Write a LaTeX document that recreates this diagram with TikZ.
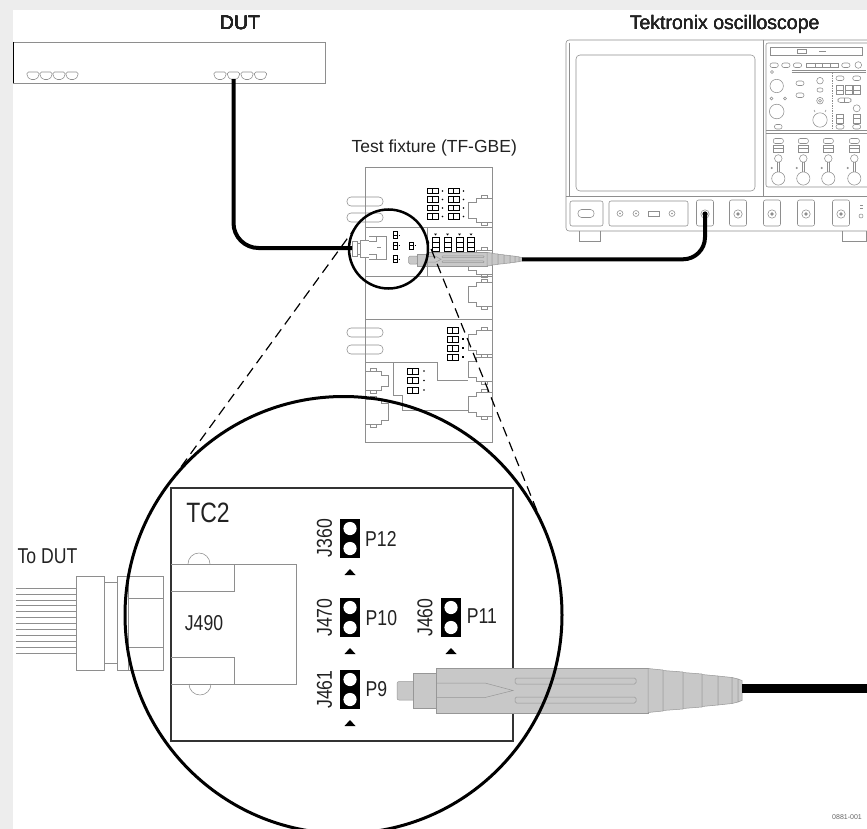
\documentclass[tikz,border=0pt]{standalone}
\usepackage{fontspec}
\setmainfont{Liberation Sans}
\newfontfamily\narrowsans[FakeStretch=0.82]{Liberation Sans}
\definecolor{bggrey}{HTML}{EDEDED}
\definecolor{linegrey}{HTML}{8E8E8E}
\definecolor{probegrey}{HTML}{C8C8C8}
\definecolor{probeedge}{HTML}{979797}
\definecolor{ink}{HTML}{222222}
\definecolor{boardedge}{HTML}{333333}

\tikzset{
  dev/.style={draw=linegrey, line width=0.55pt},
  darkpart/.style={draw=black, line width=0.6pt},
  cable/.style={draw=black, line width=4pt},
  probebody/.style={draw=probeedge, fill=probegrey, line width=0.5pt},
  probeline/.style={draw=probeedge, line width=0.5pt},
  toplbl/.style={inner sep=0pt, text=ink, font=\fontsize{19.5}{22}\selectfont},
  pinlbl/.style={inner sep=0pt, text=ink, font=\narrowsans\fontsize{21.5}{24}\selectfont},
  zoomline/.style={draw=black, line width=1.2pt, dash pattern=on 10pt off 6pt},
}

% RJ45 socket seen from the front
\newcommand\rjport[2]{%
  \draw[dev, rounded corners=1.5] (#1,#2) -- (#1+12,#2) -- (#1+12,#2+4) -- (#1+9,#2+7.5) -- (#1+3,#2+7.5) -- (#1,#2+4) -- cycle;}
% two-pin jumper header with its pin-1 marker
\newcommand\jumperblk[2]{%
  \fill[black] (#1-10,#2) rectangle (#1+10,#2+39);
  \fill[white] (#1,#2+9.5) circle (6.6);
  \fill[white] (#1,#2+29.5) circle (6.6);
  \fill[black] (#1-5.5,#2+56) -- (#1+5.5,#2+56) -- (#1,#2+50) -- cycle;}
% side-view connector on the fixture's right edge
\newcommand\fixjack[1]{%
  \draw[dev] (492,#1) -- (476,#1) -- (476,#1+4) -- (468,#1+4) -- (468,#1+20) -- (476,#1+20) -- (476,#1+24) -- (492,#1+24);
  \draw[dev] (481,#1) -- (481,#1-3) -- (487,#1-3) -- (487,#1);
  \draw[dev] (481,#1+24) -- (481,#1+27) -- (487,#1+27) -- (487,#1+24);}
% the same connector on the left edge
\newcommand\fixjackl[2]{%
  \draw[dev] (365,#1) -- (381,#1) -- (381,#1+4) -- (388,#1+4) -- (388,#1+#2-4) -- (381,#1+#2-4) -- (381,#1+#2) -- (365,#1+#2);
  \draw[dev] (370,#1) -- (370,#1-3) -- (376,#1-3) -- (376,#1);
  \draw[dev] (370,#1+#2) -- (370,#1+#2+3) -- (376,#1+#2+3) -- (376,#1+#2);}
% small horizontal header printed on the fixture
\newcommand\hjmp[2]{%
  \draw[darkpart] (#1,#2-2.8) rectangle (#1+11,#2+2.8);
  \draw[darkpart] (#1+5.5,#2-2.8) -- (#1+5.5,#2+2.8);}
% small vertical header printed on the fixture
\newcommand\vjmp[2]{%
  \draw[darkpart] (#1-3.5,#2) rectangle (#1+3.5,#2+14);
  \draw[darkpart] (#1-3.5,#2+4.7) -- (#1+3.5,#2+4.7);
  \draw[darkpart] (#1-3.5,#2+9.3) -- (#1+3.5,#2+9.3);
  \fill[black] (#1-1.5,#2-4) -- (#1+1.5,#2-4) -- (#1,#2-2) -- cycle;}
% tiny header inside the magnifier
\newcommand\tjmp[2]{%
  \draw[black, line width=0.5pt] (#1-2,#2-3.5) rectangle (#1+2,#2+3.5);
  \draw[black, line width=0.5pt] (#1-2,#2) -- (#1+2,#2);
  \draw[black, line width=0.5pt] (#1+3.5,#2) -- (#1+5,#2);}
% scope channel column
\newcommand\chcol[1]{%
  \draw[dev, rounded corners=2] (#1-5,138.5) rectangle (#1+5,143.5);
  \draw[dev] (#1-5,145) rectangle (#1+5,152);
  \draw[dev] (#1-5,148.5) -- (#1+5,148.5);
  \draw[dev] (#1,158.5) circle (3.8);
  \draw[dev] (#1-1,162.3) -- (#1-1,172);
  \draw[dev] (#1+1,162.3) -- (#1+1,172);
  \fill[linegrey] (#1-6.5,168) circle (1.1);
  \draw[dev] (#1,178.5) circle (6.6);}

\begin{document}
\begin{tikzpicture}[x=1pt,y=-1pt]
\fill[bggrey] (0,0) rectangle (867,829);
\useasboundingbox (0,0) rectangle (867,829);
\clip (0,0) rectangle (867,829);
\fill[white] (13,10) rectangle (867,829);

% ---------------- DUT ----------------
\draw[dev] (13,42) rectangle (325,83);
\draw[black, line width=0.8pt] (13,42) -- (13,83);
\foreach \px in {27,40,53,66,214,227.5,241,254.5} \rjport{\px}{72}
\node[toplbl, anchor=base] (dutlbl) at (240,29.3) {DUT};
\coordinate (dutport) at (233.5,79);

% ---------------- oscilloscope ----------------
\draw[dev, rounded corners=3] (566,40) rectangle (880,231);
\draw[dev, rounded corners=3] (569,43) -- (569,196);
\draw[dev] (566,196) -- (880,196);
\draw[dev] (763,40) -- (763,196);
\draw[dev, rounded corners=4] (576,55) rectangle (755,191);
\draw[dev] (579,231) -- (579,241) -- (600,241) -- (600,231);
\draw[dev] (842,231) -- (842,241) -- (866,241) -- (866,231);
% front strip
\draw[dev, rounded corners=2] (570,201) rectangle (603,226);
\draw[dev, rounded corners=3.5] (578,209.5) rectangle (594,217.5);
\draw[dev, rounded corners=2] (609,201) rectangle (688,226);
\foreach \cx in {620,636,672} {\draw[dev] (\cx,213.5) circle (3); \fill[linegrey] (\cx,213.5) circle (0.8);}
\draw[dev] (648,211) rectangle (659,216);
\foreach \cx in {705,738,772,806,841} {
  \draw[dev, rounded corners=2] (\cx-8.5,200) rectangle (\cx+8.5,226);
  \draw[dev] (\cx,214) circle (4.2);
  \fill[linegrey] (\cx,214) circle (1.8);
}
\draw[dev] (860,205) -- (863,205) (860,208) -- (863,208);
\draw[dev] (861,216) circle (2);
% control panel
\draw[dev, rounded corners=2] (766,43) rectangle (880,187);
\draw[dev] (770,47) rectangle (862,55);
\draw[dev] (797,49) rectangle (806,53);
\draw[dev] (819,51) -- (826,51);
\foreach \bx in {770,781.7,793.3,841.7} \draw[dev, rounded corners=2.2] (\bx,63) rectangle (\bx+8.3,67.5);
\draw[dev] (806.7,63) rectangle (838,67.5);
\foreach \bx in {815,822.5,830} \draw[dev] (\bx,63) -- (\bx,67.5);
\draw[dev] (858.3,65) circle (3.3);
\draw[dev] (791.7,70.5) -- (866,70.5);
\draw[dev] (791.7,72.5) -- (866,72.5);
\draw[dev] (772,72) circle (1.5);
\draw[dev] (776.7,86) circle (6.7);
\draw[dev] (771.5,98.5) circle (1.4);
\draw[dev] (785,98.5) circle (1.4);
\draw[dev] (776.7,111.5) circle (7.3);
\draw[dev, rounded corners=2] (774.5,124.5) rectangle (782,129);
\draw[dev, rounded corners=2.2] (796,81) rectangle (804,85.5);
\draw[dev, rounded corners=2.2] (796,93) rectangle (804,97.5);
\draw[dev] (820,80.7) circle (3.3);
\draw[dev, rounded corners=2] (817,88) rectangle (823,92);
\draw[dev] (820,100.7) circle (3.3);
\draw[dev] (820,100.7) circle (1.5);
\draw[dev] (820,120) circle (7.2);
\draw[dev] (814,110) -- (815,112) (826,110) -- (825,112);
\draw[dev, dash pattern=on 1.5pt off 1pt] (832.7,73) -- (832.7,130);
\foreach \bx in {840,856.7} {
  \draw[dev, rounded corners=2.2] (\bx-4,76) rectangle (\bx+4,80.5);
  \draw[dev] (\bx-3.5,85.5) rectangle (\bx+3.5,94.5);
  \draw[dev] (\bx-3.5,90) -- (\bx+3.5,90);
  \draw[dev] (\bx-3.5,114) rectangle (\bx+3.5,123);
  \draw[dev] (\bx-3.5,118.5) -- (\bx+3.5,118.5);
  \draw[dev, rounded corners=2.2] (\bx-4,124.5) rectangle (\bx+4,129);
}
\draw[dev] (845,85.5) rectangle (852,94.5);
\draw[dev] (845,90) -- (852,90);
\draw[dev, rounded corners=2.3] (838,98) rectangle (851,102.5);
\draw[dev] (844.5,98) -- (844.5,102.5);
\draw[dev] (856.7,108.3) circle (3.5);
\draw[dev] (766,130.5) -- (880,130.5);
\draw[dev] (766,133.5) -- (880,133.5);
\foreach \cx in {778.3,803.3,828.3,854.3} \chcol{\cx}
\node[toplbl, anchor=base] (scopelbl) at (724.7,29.5) {Tektronix oscilloscope};
\coordinate (ch1) at (705,214);

% ---------------- test fixture ----------------
\draw[dev] (365,167) rectangle (492,442);
\draw[dev] (365,227) -- (492,227);
\draw[dev] (365,276) -- (492,276);
\draw[dev] (427,227) -- (427,276);
\draw[dev] (365,319) -- (492,319);
\foreach \ty in {197,213,328,345} \draw[dev, rounded corners=4] (347,\ty) rectangle (383,\ty+9);
\foreach \jy in {191,199.5,208,216.5} {
  \hjmp{427}{\jy}
  \hjmp{448}{\jy}
  \fill[black] (442.5,\jy) circle (0.9);
  \fill[black] (463.5,\jy) circle (0.9);
}
\foreach \jx in {435.5,447.5,459.5,471} \vjmp{\jx}{237.5}
\foreach \cy in {198,250,282,330,357,392} \fixjack{\cy}
\fixjackl{371}{19}
\fixjackl{399}{25}
\foreach \jy in {330,339,348,357} \hjmp{447}{\jy}
\foreach \jy in {339,348,357} \fill[black] (463,\jy) circle (0.9);
\foreach \jy in {371,380.5,390} {\hjmp{407}{\jy} \fill[black] (424,\jy) circle (0.9);}
\draw[dev] (365,362) -- (437,362) -- (437,380) -- (468,380);
\draw[dev] (393,362) -- (393,395) -- (402,395) -- (402,410) -- (468,410);
\node[inner sep=0pt, text=ink, font=\fontsize{17.5}{20}\selectfont, anchor=base] (fixlbl) at (434.2,152.7) {Test fixture (TF-GBE)};

% fixture probe
\draw[probebody, rounded corners=1.5] (408.5,256) rectangle (418,264);
\draw[probebody] (417,254) rectangle (428,266);
\draw[probebody] (427,252.5) rectangle (487,266);
\draw[probeline] (427,256.5) -- (436,256.5) -- (441,259.3) -- (436,262) -- (427,262);
\draw[probeline, rounded corners=0.8] (442,255.8) rectangle (484,257.6);
\draw[probeline, rounded corners=0.8] (442,260.9) rectangle (484,262.7);
\foreach \xa/\xb/\yt in {487/492/252.5,492/498/253.5,498/504/254.3,504/510/255,510/515/255.7,515/519/256.3,519/522/257} {
  \draw[probebody] (\xa,\yt) -- (\xb,\yt+0.5) -- (\xb,518.5-\yt-0.5) -- (\xa,518.5-\yt) -- cycle;
}
\coordinate (probeend) at (522,259.3);

% magnifier contents: plug, jack and headers
\draw[dev, fill=white] (352,241) rectangle (357,256);
\draw[dev, fill=white] (357,243) rectangle (360,254);
\draw[dev, fill=white] (360,240) rectangle (369,257);
\draw[dev, fill=white] (369,236) -- (386,236) -- (386,259) -- (369,259);
\draw[dev] (369,241) -- (376,241) -- (376,236);
\draw[dev] (369,254) -- (376,254) -- (376,259);
\draw[dev] (377,247.5) -- (381,247.5);
\tjmp{395}{235}
\tjmp{395}{245.5}
\tjmp{395}{259}
\tjmp{411}{245.5}
\coordinate (fixin) at (352,248);

% ---------------- cables ----------------
\draw[cable, rounded corners=25] (dutport) |- (fixin);
\draw[cable, rounded corners=22] (probeend) -| (ch1);
\fill[black] (ch1) circle (2.6);

% ---------------- magnified view ----------------
\foreach \k in {0,...,11} \draw[dev] (16,588+\k*5.9) -- (76,588+\k*5.9);
\draw[dev, fill=white] (76,576) rectangle (104,670);
\draw[dev, fill=white] (104,582) rectangle (117,663);
\draw[dev, fill=white] (117,576) rectangle (163,670);
\draw[dev] (128,576) -- (128,670);
\draw[dev] (128,598) -- (163,598);
\draw[dev] (128,647) -- (163,647);
\node[pinlbl, anchor=base] (todut) at (47.5,563) {To DUT};

\draw[draw=boardedge, line width=1.8pt] (171,488) rectangle (513,741);
\node[inner sep=0pt, text=ink, font=\narrowsans\fontsize{28}{30}\selectfont, anchor=base] (tc2) at (208,522) {TC2};

% RJ45 jack J490
\draw[dev] (171,564) -- (296,564) -- (296,684) -- (171,684);
\draw[dev] (171,591) -- (234,591) -- (234,564);
\draw[dev] (171,657) -- (234,657) -- (234,684);
\draw[dev] (188,564) arc[start angle=180, end angle=360, radius=11];
\draw[dev] (189,684) arc[start angle=180, end angle=0, radius=11];
\node[pinlbl, anchor=base] (j490) at (204,630) {J490};

% jumper headers
\jumperblk{350}{519}
\jumperblk{350}{598}
\jumperblk{350}{670}
\jumperblk{451}{598}
\node[pinlbl, rotate=90] (j360) at (324.5,538) {J360};
\node[pinlbl, rotate=90] (j470) at (324.5,617.5) {J470};
\node[pinlbl, rotate=90] (j461) at (324.5,689.5) {J461};
\node[pinlbl, rotate=90] (j460) at (425,617.5) {J460};
\node[pinlbl, anchor=base west] (p12) at (365,546.7) {P12};
\node[pinlbl, anchor=base west] (p10) at (365.5,625.3) {P10};
\node[pinlbl, anchor=base west] (p9) at (365.5,696.7) {P9};
\node[pinlbl, anchor=base west] (p11) at (466.7,623.5) {P11};

% probe, magnified
\draw[probebody, rounded corners=2] (397,681.5) rectangle (416,700);
\draw[probebody] (413,673) rectangle (437,708);
\draw[probebody] (436,668) rectangle (648,713);
\draw[probeline] (436,683) -- (485,683) -- (513,690.5) -- (485,697.5) -- (436,697.5);
\draw[probeline, rounded corners=1.5] (515,678) rectangle (636,684);
\draw[probeline, rounded corners=1.5] (515,697) rectangle (636,703);
\foreach \xa/\xb/\yt in {648/663/668.5,663/683/670.5,683/702/672.5,702/718/674.5,718/732/676,732/738/677.5,738/742/679} {
  \draw[probebody] (\xa,\yt) -- (\xb,\yt+1.5) -- (\xb,1381-\yt-1.5) -- (\xa,1381-\yt) -- cycle;
}
\coordinate (bigprobeend) at (742,688.5);
\coordinate (rightedge) at (867,688.5);
\draw[black, line width=9pt] (bigprobeend) -- (rightedge);

% magnifier outlines and the lines joining them
\coordinate (sA) at (356.6,225.8);
\coordinate (bA) at (166.8,486.4);
\coordinate (sB) at (425.1,234.2);
\coordinate (bB) at (546,533.1);
\draw[zoomline] (sA) -- (bA);
\draw[zoomline] (sB) -- (bB);
\draw[black, line width=2.5pt] (388.5,249) circle (39.5);
\draw[black, line width=3pt] (343.5,615) circle (218.5);

\node[inner sep=0pt, text=gray!80!black, font=\fontsize{7}{8}\selectfont, anchor=base] (figno) at (847,819) {0881-001};
\end{tikzpicture}
\end{document}
